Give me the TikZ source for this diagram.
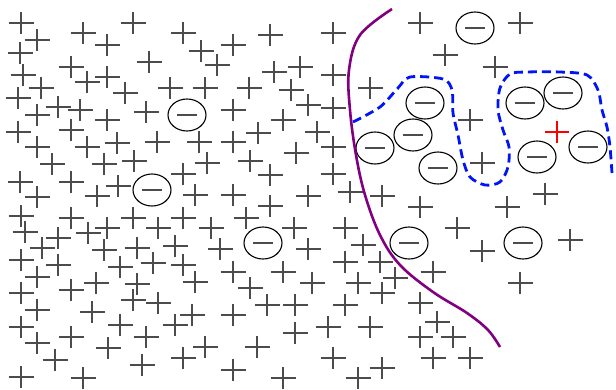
\documentclass[tikz,border=0pt]{standalone}
\usepackage{tikz}
\usetikzlibrary{calc}

\begin{document}
\begin{tikzpicture}[x=1pt, y=-1pt,
  plusline/.style={line width=1.6pt, draw=black!70},
  ionring/.style={line width=1.1pt, draw=black},
  boundary/.style={line width=2.6pt, draw={rgb,255:red,128;green,0;blue,128}},
  cluster/.style={line width=2.8pt, draw={rgb,255:red,0;green,20;blue,245}, dash pattern=on 9pt off 5pt}]
  \useasboundingbox[fill=white] (0,0) rectangle (616,389);

  % positive charges
  \foreach \px/\py in {21/23,37/40,133/23,183/33,83/33,107/45,201/51,20/53,71/67,149/62,
      23/75,107/77,87/82,41/88,125/93,170/88,205/88,18/98,58/107,80/110,37/115,107/120,
      146/112,18/132,71/130,157/142,199/142,37/147,87/147,117/143,134/161,52/164,104/164,
      207/163,183/174,20/182,71/182,118/186,37/197,97/196,195/195,
      270/35,333/33,233/45,217/65,274/72,300/67,333/75,249/88,291/90,370/88,233/110,
      308/105,333/108,283/120,258/133,317/132,233/142,333/147,296/153,250/161,270/175,
      333/174,233/195,308/196,350/192,382/196,
      420/23,520/23,445/55,495/67,470/120,482/163,545/194,
      21/216,71/218,133/218,183/218,25/232,88/233,107/228,158/228,211/228,58/238,42/248,
      104/250,137/248,175/246,21/260,58/265,120/267,153/263,183/265,37/277,96/283,137/284,
      195/282,71/290,21/293,133/300,158/303,37/310,92/312,192/315,21/327,120/325,175/325,
      71/337,146/337,37/343,108/348,205/347,55/360,183/358,142/365,21/377,83/378,
      270/206,246/218,294/228,345/228,220/249,308/249,363/245,345/262,380/262,233/272,
      283/272,250/288,312/283,358/283,395/278,382/293,267/305,295/305,345/305,233/315,
      328/327,370/327,295/333,257/347,333/358,233/370,382/368,283/378,358/378,
      420/207,507/207,457/228,570/240,482/251,433/272,520/283,420/303,437/322,420/337,
      453/337,433/358,470/358}
    \draw[plusline] (\px-12.5,\py) -- (\px+12.5,\py) (\px,\py-11) -- (\px,\py+11);

  % negative charges
  \foreach \mx/\my in {187/115,152/190,263/243,409/243,523/243,475/28,425/103,413/135,
      375/148,438/168,525/103,563/93,537/157,588/147} {
    \draw[ionring, fill=white] (\mx,\my) ellipse [x radius=19, y radius=16];
    \draw[plusline] (\mx-10,\my) -- (\mx+10,\my);
  }

  % test charge
  \draw[line width=1.8pt, red] (545,132) -- (569,132) (557,121) -- (557,143);

  % separating curve
  \draw[boundary] plot[smooth, tension=0.6] coordinates {(392,9) (360,35) (349,70) (350,110)
    (356,155) (365,195) (380,235) (400,265) (433,292) (467,313) (488,330) (500,347)};

  % dashed regions
  \draw[cluster] plot[smooth, tension=0.5] coordinates {(353,122) (380,107) (398,88) (410,77)
    (443,79) (452,90) (453,113) (458,135) (463,160) (470,177) (485,185) (500,182) (508,167)
    (509,147) (503,130) (498,110) (500,88) (510,74) (527,72) (560,72) (587,75) (598,90)
    (602,110) (607,127) (610,147) (612,173)};
\end{tikzpicture}
\end{document}
